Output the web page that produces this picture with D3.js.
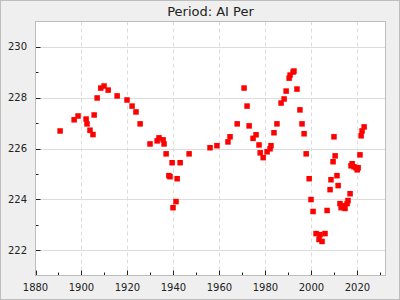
<!DOCTYPE html>
<html><head><meta charset="utf-8">
<script src="https://cdn.jsdelivr.net/npm/d3@7"></script>
<style>html,body{margin:0;padding:0;background:#efefef;}svg{display:block;}</style>
</head><body>
<script>
const title = "Period: AI Per";
const years = [1890.7,1896.8,1898.5,1902.0,1902.4,1903.7,1905.0,1905.5,1906.8,1908.4,1909.8,1911.6,1915.5,1919.8,1922.0,1923.7,1925.5,1929.8,1932.9,1933.7,1935.5,1935.9,1936.8,1938.0,1938.5,1939.4,1939.8,1941.1,1941.6,1942.9,1946.8,1955.9,1958.9,1963.7,1964.6,1967.7,1970.7,1972.0,1972.9,1974.6,1975.9,1977.2,1977.7,1979.0,1980.7,1982.0,1982.4,1983.7,1985.0,1986.8,1988.1,1989.0,1990.3,1990.7,1992.0,1992.4,1993.7,1995.0,1995.9,1996.8,1997.7,1999.0,1999.8,2000.7,2002.0,2003.3,2003.7,2004.6,2005.9,2006.8,2008.1,2008.5,2009.4,2009.8,2010.3,2011.1,2011.6,2012.4,2012.9,2013.7,2014.6,2015.5,2015.9,2016.8,2017.2,2017.7,2018.5,2019.4,2019.9,2020.3,2021.1,2021.6,2022.0,2022.9];
const values = [226.69,227.13,227.28,227.16,226.97,226.72,226.55,227.32,227.99,228.38,228.46,228.30,228.07,227.91,227.67,227.44,226.97,226.18,226.30,226.42,226.34,226.18,225.79,224.93,224.89,225.44,223.67,223.91,224.81,225.44,225.79,226.03,226.11,226.26,226.46,226.97,228.38,227.67,226.89,226.40,226.54,226.14,225.83,225.64,225.87,225.99,226.11,226.62,226.97,227.79,227.95,228.26,228.77,228.89,229.01,229.05,228.34,227.52,226.97,226.58,225.79,224.81,223.99,223.52,222.65,222.42,222.61,222.34,222.65,223.56,224.38,224.77,225.48,226.46,225.71,224.93,224.54,223.83,223.67,223.75,223.64,223.83,223.95,224.22,225.32,225.40,225.28,225.24,225.16,225.24,225.75,226.50,226.69,226.85];
const xMajorTicks = [1880,1900,1920,1940,1960,1980,2000,2020];
const xMinorTicks = [1890,1910,1930,1950,1970,1990,2010,2030];
const yMajorTicks = [222,224,226,228,230];
const yMinorTicks = [223,225,227,229];

const W = 400, H = 300;
const L = 35.5, R = 385.5, T = 21.5, B = 275.5;
const svg = d3.select("body").append("svg").attr("width", W).attr("height", H);
svg.append("rect").attr("x",0.5).attr("y",0.5).attr("width",W-1).attr("height",H-1)
  .attr("fill","#efefef").attr("stroke","#bdbdbd");
const x = d3.scaleLinear().domain([1880, 2032.2]).range([L, R]);
const y = d3.scaleLinear().domain([221, 231]).range([B, T]);

svg.append("rect").attr("x",L).attr("y",T).attr("width",R-L).attr("height",B-T).attr("fill","#fff");

// grid
svg.append("g").selectAll("line").data(yMajorTicks).join("line")
  .attr("x1",L).attr("x2",R).attr("y1",d=>Math.round(y(d))+0.5).attr("y2",d=>Math.round(y(d))+0.5)
  .attr("stroke","#dcdcdc").attr("stroke-width",1);
svg.append("g").selectAll("line").data(xMajorTicks.slice(1)).join("line")
  .attr("y1",T).attr("y2",B).attr("x1",d=>Math.round(x(d))+0.5).attr("x2",d=>Math.round(x(d))+0.5)
  .attr("stroke","#dcdcdc").attr("stroke-width",1).attr("stroke-dasharray","4,3");

// axes (inward ticks)
const ax = svg.append("g").attr("font-family","DejaVu Sans").attr("font-size",10).attr("fill","#222");
function yTick(v, len){ax.append("line").attr("x1",L).attr("x2",L+len).attr("y1",Math.round(y(v))+0.5).attr("y2",Math.round(y(v))+0.5).attr("stroke","#222");}
function xTick(v, len){ax.append("line").attr("y1",B).attr("y2",B-len).attr("x1",Math.round(x(v))+0.5).attr("x2",Math.round(x(v))+0.5).attr("stroke","#222");}
yMajorTicks.forEach(v=>{yTick(v,5); ax.append("text").attr("x",27).attr("y",y(v)).attr("dy","0.35em").attr("text-anchor","end").text(v);});
yMinorTicks.forEach(v=>yTick(v,3));
xMajorTicks.forEach(v=>{xTick(v,5); ax.append("text").attr("x",x(v)).attr("y",287).attr("dy","0.35em").attr("text-anchor","middle").text(v);});
xMinorTicks.forEach(v=>xTick(v,3));

svg.append("rect").attr("x",L).attr("y",T).attr("width",R-L).attr("height",B-T)
  .attr("fill","none").attr("stroke","#bdbdbd");

// points
const s = 5.5;
svg.append("g").selectAll("rect").data(years.map((d,i)=>[d,values[i]])).join("rect")
  .attr("x",d=>x(d[0])-s/2).attr("y",d=>y(d[1])-s/2).attr("width",s).attr("height",s)
  .attr("fill","#ff0000");

svg.append("text").attr("x",(L+R)/2).attr("y",11).attr("dy","0.35em").attr("text-anchor","middle")
  .attr("font-family","DejaVu Sans").attr("font-size",13).attr("fill","#222").text(title);
</script>
</body></html>
